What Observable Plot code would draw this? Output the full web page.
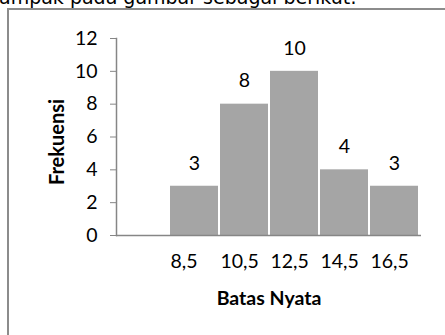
<!DOCTYPE html>
<html>
<head>
<meta charset="utf-8">
<script src="https://cdn.jsdelivr.net/npm/d3@7"></script>
<script src="https://cdn.jsdelivr.net/npm/@observablehq/plot@0.6"></script>
<style>
  html, body { margin: 0; padding: 0; background: #fff; }
  #wrap { position: relative; width: 445px; height: 335px; overflow: hidden; background: #fff; }
  #lead { position: absolute; left: -1px; top: -14px; font-family: "DejaVu Sans", sans-serif; font-size: 19px; color: #000; white-space: nowrap; }
  #box { position: absolute; left: 7px; top: 8px; width: 460px; height: 360px; border-left: 2px solid #8c8c8c; border-top: 2px solid #8c8c8c; }
  #chart { position: absolute; left: 0; top: 0; }
  #chart svg { font-family: Lato, "Open Sans", sans-serif; }
</style>
</head>
<body>
<div id="wrap">
  <div id="lead">ampak pada gambar sebagai berikut:</div>
  <div id="box"></div>
  <div id="chart"></div>
</div>
<script>
const categories = ["", "8,5", "10,5", "12,5", "14,5", "16,5"];
const labels = ["8,5", "10,5", "12,5", "14,5", "16,5"];
const freqs = [3, 8, 10, 4, 3];
const yTicks = [0, 2, 4, 6, 8, 10, 12];
const xTitle = "Batas Nyata";
const yTitle = "Frekuensi";

const data = labels.map((l, i) => ({label: l, freq: freqs[i]}));
const fs = 19.5;

const chart = Plot.plot({
  width: 445,
  height: 335,
  marginLeft: 116,
  marginRight: 24,
  marginTop: 38,
  marginBottom: 100,
  style: {background: "transparent", fontSize: fs + "px", fontFamily: "Lato, 'Open Sans', sans-serif", color: "#000"},
  x: {type: "band", domain: categories, paddingInner: 0.05, paddingOuter: 0.025, axis: null},
  y: {domain: [0, 12], axis: null},
  marks: [
    Plot.barY(data, {x: "label", y: "freq", fill: "#a5a5a5"}),
    Plot.frame({anchor: "left", stroke: "#868686", strokeWidth: 1.5}),
    Plot.ruleY([0], {stroke: "#868686", strokeWidth: 1.5}),
    Plot.axisY({ticks: yTicks, tickSize: 6, tickPadding: 13, stroke: "#868686", fill: "#000", fontSize: fs, label: null, tickFormat: d => String(d)}),
    Plot.axisX({tickSize: 0, tickPadding: 19, textAnchor: "start", dx: -24, fill: "#000", fontSize: fs, label: null}),
    Plot.text(data, {x: "label", y: "freq", text: d => String(d.freq), dy: -23, fontSize: fs, fill: "#000"}),
    Plot.text([yTitle], {frameAnchor: "left", textAnchor: "middle", lineAnchor: "middle", dx: -59, dy: 5, rotate: -90, fontWeight: "bold", fontSize: 20, fill: "#000"}),
    Plot.text([xTitle], {frameAnchor: "bottom", textAnchor: "middle", lineAnchor: "middle", dy: 63, fontWeight: "bold", fontSize: 19.5, fill: "#000"})
  ]
});
document.getElementById("chart").appendChild(chart);
</script>
</body>
</html>
